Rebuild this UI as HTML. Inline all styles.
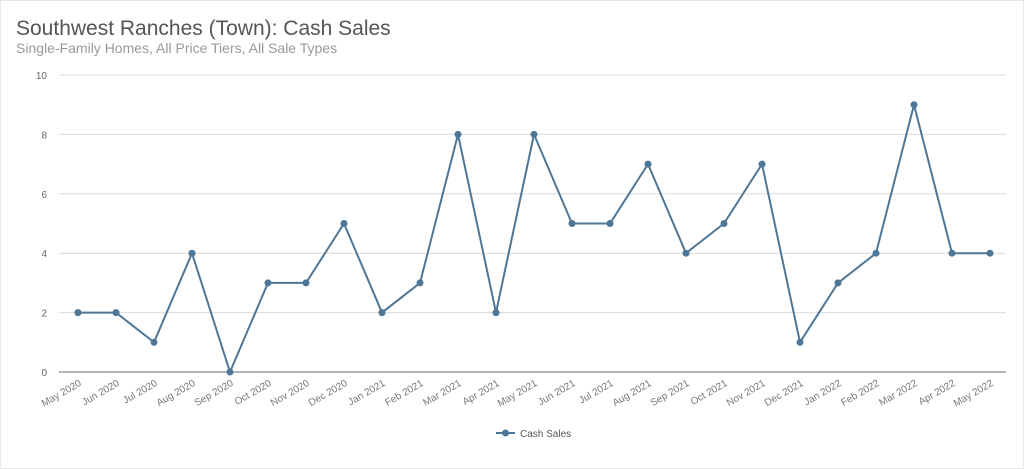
<!DOCTYPE html>
<html><head><meta charset="utf-8"><style>
body{margin:0;background:#fff;font-family:"Liberation Sans",sans-serif}
#wrap{position:relative;width:1022px;height:467px;border:1px solid #e8e8e8;overflow:hidden}
</style></head><body>
<div id="wrap">
<svg id="chart" width="1022" height="467">
<text x="15" y="34" font-size="21" fill="#555">Southwest Ranches (Town): Cash Sales</text>
<text x="15" y="52" font-size="14" fill="#999">Single-Family Homes, All Price Tiers, All Sale Types</text>
<g id="grid"></g><g id="xl"></g><g id="series"></g>
<g>
<line x1="495" y1="432" x2="514" y2="432" stroke="#4e7696" stroke-width="2"/>
<circle cx="504.5" cy="432" r="3.5" fill="#4e7696"/>
<text x="519" y="436" font-size="10" fill="#555">Cash Sales</text>
</g>
</svg></div>
<script>
const categories=["May 2020","Jun 2020","Jul 2020","Aug 2020","Sep 2020","Oct 2020","Nov 2020","Dec 2020","Jan 2021","Feb 2021","Mar 2021","Apr 2021","May 2021","Jun 2021","Jul 2021","Aug 2021","Sep 2021","Oct 2021","Nov 2021","Dec 2021","Jan 2022","Feb 2022","Mar 2022","Apr 2022","May 2022"];
const values=[2,2,1,4,0,3,3,5,2,3,8,2,8,5,5,7,4,5,7,1,3,4,9,4,4];
const yTicks=[0,2,4,6,8,10];
const NS="http://www.w3.org/2000/svg";
const x0=77,x1=989,y0=371,y1=74,yMax=10;
const xs=i=>x0+(x1-x0)*i/(categories.length-1);
const ys=v=>y0-(y0-y1)*v/yMax;
function mk(t,a,p){const e=document.createElementNS(NS,t);for(const k in a)e.setAttribute(k,a[k]);p.appendChild(e);return e;}
const grid=document.getElementById('grid');
yTicks.forEach(v=>{
 const l=mk('line',{x1:58,x2:1005,y1:ys(v),y2:ys(v),stroke:v===0?'#5a6b78':'#dcdcdc','stroke-width':1},grid);
 
 
 const t=mk('text',{x:46,y:ys(v)+4,'font-size':10,fill:'#666','text-anchor':'end'},grid);
 t.textContent=v;
 
 
});
const xl=document.getElementById('xl');
categories.forEach((c,i)=>{
 const t=mk('text',{x:xs(i)+4,y:384,'font-size':10,fill:'#777','text-anchor':'end',transform:`rotate(-30 ${xs(i)+4} 384)`},xl);
 t.textContent=c;
 
 
});
const s=document.getElementById('series');
const path=mk('polyline',{points:values.map((v,i)=>xs(i)+','+ys(v)).join(' '),fill:'none',stroke:'#4e7696','stroke-width':2},s);


values.forEach((v,i)=>{
 const c=mk('circle',{cx:xs(i),cy:ys(v),r:3.5,fill:'#4e7696'},s);
 
 
});
</script>
</body></html>
